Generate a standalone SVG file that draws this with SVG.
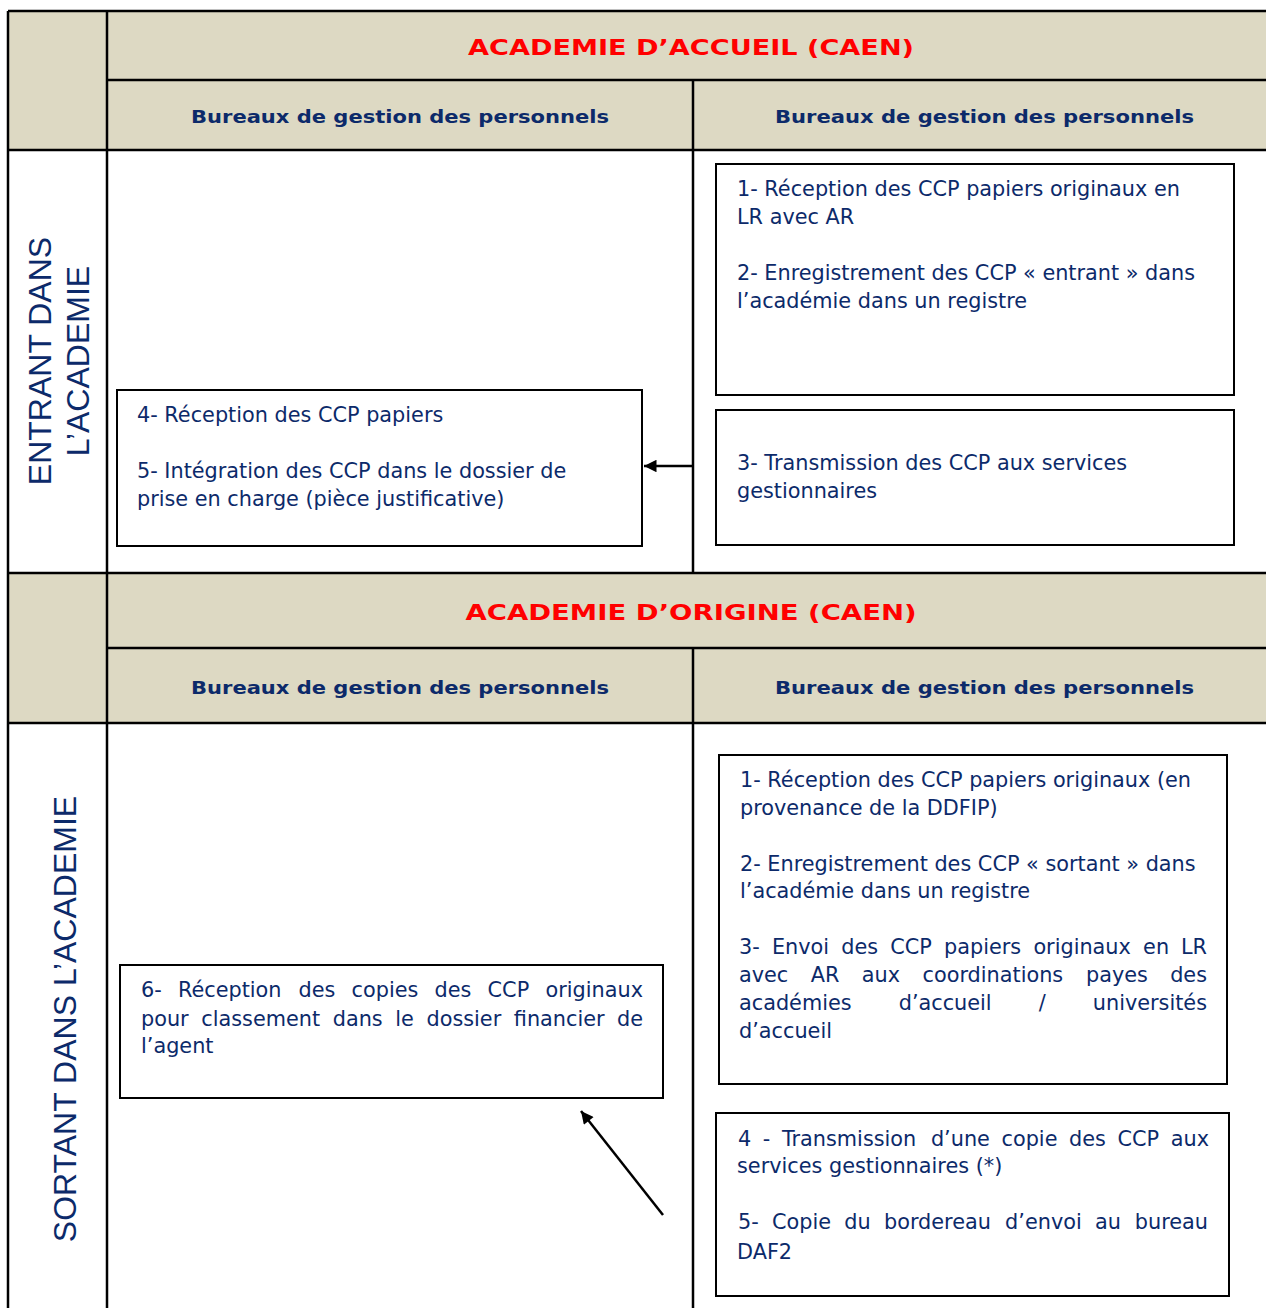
<svg xmlns="http://www.w3.org/2000/svg" width="1266" height="1308" viewBox="0 0 1266 1308">
<style>
.hdr{fill:#DDD9C3}
.grid{stroke:#000;stroke-width:2.5;fill:none}
.box{fill:#fff;stroke:#000;stroke-width:2}
.red{font-family:"DejaVu Sans",Verdana,sans-serif;font-weight:bold;font-size:22px;fill:#FF0000;text-anchor:middle}
.bur{font-family:"DejaVu Sans",Verdana,sans-serif;font-weight:bold;font-size:17px;fill:#0C2A6A;text-anchor:middle}
.t{font-family:"DejaVu Sans",Verdana,sans-serif;font-size:20.8px;fill:#0C2A6A}
.v{font-family:"Liberation Sans",Arial,sans-serif;font-size:32px;fill:#0C2A6A;text-anchor:middle}
.e{text-anchor:end}
.con{stroke:#000;stroke-width:2.5;fill:none}
</style>
<defs>
<marker id="ah" viewBox="0 0 10 10" refX="10" refY="5" markerWidth="6" markerHeight="5" markerUnits="strokeWidth" orient="auto">
<path d="M0,0 L10,5 L0,10 z" fill="#000"/>
</marker>
</defs>
<rect x="0" y="0" width="1266" height="1308" fill="#fff"/>
<g id="table">
<rect class="hdr" x="8" y="11" width="1258" height="139"/>
<rect class="hdr" x="8" y="573" width="1258" height="150"/>
<path class="grid" d="M8,11 H1266 M107,80 H1266 M8,150 H1266 M8,573 H1266 M107,648 H1266 M8,723 H1266 M8,11 V1308 M107,11 V1308 M693,80 V573 M693,648 V1308"/>
</g>
<g id="header-accueil">
<text class="red" x="691" y="55" textLength="446" lengthAdjust="spacingAndGlyphs">ACADEMIE D’ACCUEIL (CAEN)</text>
<text class="bur" x="400" y="123" textLength="418" lengthAdjust="spacingAndGlyphs">Bureaux de gestion des personnels</text>
<text class="bur" x="984.5" y="123" textLength="419" lengthAdjust="spacingAndGlyphs">Bureaux de gestion des personnels</text>
</g>
<g id="header-origine">
<text class="red" x="691" y="620" textLength="451" lengthAdjust="spacingAndGlyphs">ACADEMIE D’ORIGINE (CAEN)</text>
<text class="bur" x="400" y="694" textLength="418" lengthAdjust="spacingAndGlyphs">Bureaux de gestion des personnels</text>
<text class="bur" x="984.5" y="694" textLength="419" lengthAdjust="spacingAndGlyphs">Bureaux de gestion des personnels</text>
</g>
<g id="label-entrant">
<text class="v" transform="translate(51,361) rotate(-90)">ENTRANT DANS</text>
<text class="v" transform="translate(89,361) rotate(-90)">L’ACADEMIE</text>
</g>
<g id="label-sortant">
<text class="v" transform="translate(76,1019) rotate(-90)">SORTANT DANS L’ACADEMIE</text>
</g>
<g id="box-a">
<rect class="box" x="716" y="164" width="518" height="231"/>
<text class="t" x="737" y="196">1- Réception des CCP papiers originaux en</text>
<text class="t" x="737" y="224">LR avec AR</text>
<text class="t" x="737" y="280">2- Enregistrement des CCP « entrant » dans</text>
<text class="t" x="737" y="308">l’académie dans un registre</text>
</g>
<g id="box-b">
<rect class="box" x="716" y="410" width="518" height="135"/>
<text class="t" x="737" y="470">3- Transmission des CCP aux services</text>
<text class="t" x="737" y="498">gestionnaires</text>
</g>
<g id="box-c">
<rect class="box" x="117" y="390" width="525" height="156"/>
<text class="t" x="137" y="422">4- Réception des CCP papiers</text>
<text class="t" x="137" y="478">5- Intégration des CCP dans le dossier de</text>
<text class="t" x="137" y="506">prise en charge (pièce justificative)</text>
</g>
<g id="box-d">
<rect class="box" x="719" y="755" width="508" height="329"/>
<text class="t" x="740" y="787">1- Réception des CCP papiers originaux (en</text>
<text class="t" x="740" y="815">provenance de la DDFIP)</text>
<text class="t" x="740" y="871">2- Enregistrement des CCP « sortant » dans</text>
<text class="t" x="740" y="898">l’académie dans un registre</text>
<text class="t" y="954"><tspan x="739">3-</tspan><tspan x="771.9">Envoi</tspan><tspan x="841.3">des</tspan><tspan x="890.3">CCP</tspan><tspan x="944.1">papiers</tspan><tspan x="1033.4">originaux</tspan><tspan x="1143.1">en</tspan></text>
<text class="t e" x="1207" y="954">LR</text>
<text class="t" y="982"><tspan x="739">avec</tspan><tspan x="810.7">AR</tspan><tspan x="861.8">aux</tspan><tspan x="922.5">coordinations</tspan><tspan x="1086">payes</tspan></text>
<text class="t e" x="1207" y="982">des</text>
<text class="t" y="1010"><tspan x="739">académies</tspan><tspan x="898.7">d’accueil</tspan><tspan x="1038.8">/</tspan></text>
<text class="t e" x="1207" y="1010">universités</text>
<text class="t" x="739" y="1038">d’accueil</text>
</g>
<g id="box-e">
<rect class="box" x="716" y="1113" width="513" height="183"/>
<text class="t" y="1146"><tspan x="738">4</tspan><tspan x="762.8">-</tspan><tspan x="781.9">Transmission</tspan><tspan x="930.9">d’une</tspan><tspan x="1001.5">copie</tspan><tspan x="1069.1">des</tspan><tspan x="1117.5">CCP</tspan></text>
<text class="t e" x="1209" y="1146">aux</text>
<text class="t" x="737" y="1173">services gestionnaires (*)</text>
<text class="t" y="1229"><tspan x="738">5-</tspan><tspan x="772">Copie</tspan><tspan x="844.3">du</tspan><tspan x="884">bordereau</tspan><tspan x="1005.1">d’envoi</tspan><tspan x="1095">au</tspan></text>
<text class="t e" x="1208" y="1229">bureau</text>
<text class="t" x="737" y="1259">DAF2</text>
</g>
<g id="box-f">
<rect class="box" x="120" y="965" width="543" height="133"/>
<text class="t" y="997"><tspan x="141">6-</tspan><tspan x="177.9">Réception</tspan><tspan x="298.6">des</tspan><tspan x="351.6">copies</tspan><tspan x="434.6">des</tspan><tspan x="487.6">CCP</tspan></text>
<text class="t e" x="643" y="997">originaux</text>
<text class="t" y="1026"><tspan x="141">pour</tspan><tspan x="201.3">classement</tspan><tspan x="332.7">dans</tspan><tspan x="395.3">le</tspan><tspan x="426.5">dossier</tspan><tspan x="513.8">financier</tspan></text>
<text class="t e" x="643" y="1026">de</text>
<text class="t" x="141" y="1053">l’agent</text>
</g>
<g id="connectors">
<line class="con" x1="694" y1="466" x2="644" y2="466" marker-end="url(#ah)"/>
<line class="con" x1="663" y1="1215" x2="581" y2="1111" marker-end="url(#ah)"/>
</g>
</svg>
